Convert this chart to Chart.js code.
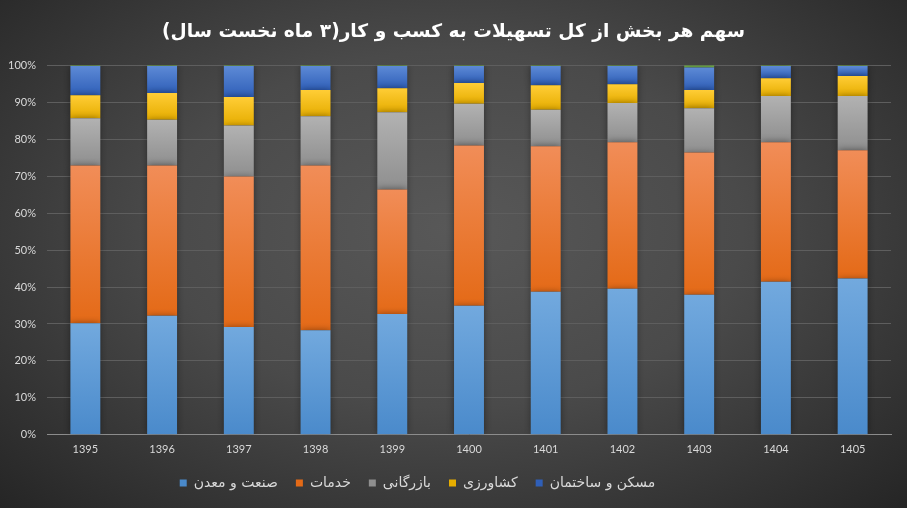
<!DOCTYPE html>
<html>
<head>
<meta charset="utf-8">
<script src="https://cdn.jsdelivr.net/npm/chart.js@4.4.1/dist/chart.umd.min.js"></script>
<style>
  html, body { margin:0; padding:0; }
  body {
    width:907px; height:508px; overflow:hidden;
    background: radial-gradient(ellipse farthest-corner at 50% 45%, #585858 0%, #4a4a4a 45%, #252525 100%);
  }
  #wrap { position:relative; width:907px; height:508px; }
</style>
</head>
<body>
<div id="wrap"><canvas id="c"></canvas></div>
<script>
const years = ['1395','1396','1397','1398','1399','1400','1401','1402','1403','1404','1405'];
const seriesNames = ['صنعت و معدن','خدمات','بازرگانی','کشاورزی','مسکن و ساختمان','سایر'];
const industry     = [30.2, 32.2, 29.2, 28.3, 32.7, 34.9, 38.7, 39.5, 37.9, 41.4, 42.3];
const services     = [42.7, 40.7, 40.7, 44.6, 33.7, 43.4, 39.4, 39.7, 38.5, 37.8, 34.7];
const commerce     = [12.8, 12.4, 13.8, 13.3, 20.9, 11.3,  9.9, 10.6, 12.0, 12.5, 14.7];
const agriculture  = [ 6.2,  7.2,  7.7,  7.1,  6.5,  5.6,  6.6,  5.1,  4.9,  4.8,  5.4];
const housing      = [ 7.9,  7.3,  8.4,  6.5,  6.0,  4.6,  5.2,  4.9,  6.1,  3.3,  2.7];
const other        = [ 0.2,  0.2,  0.2,  0.2,  0.2,  0.2,  0.2,  0.2,  0.6,  0.2,  0.2];
const yTicks = [0,10,20,30,40,50,60,70,80,90,100];

const allSeries = [industry, services, commerce, agriculture, housing, other];
const palette = [
  {flat:'#5b9bd5', top:'#72a9de', bottom:'#4a8acb'},
  {flat:'#ed7d31', top:'#f18d58', bottom:'#e46a17'},
  {flat:'#a5a5a5', top:'#b2b2b2', bottom:'#8f8f8f'},
  {flat:'#ffc000', top:'#ffcd36', bottom:'#e6ad00'},
  {flat:'#4472c4', top:'#5d8ad6', bottom:'#2f5fb8'},
  {flat:'#70ad47', top:'#70ad47', bottom:'#70ad47'}
];

function gradFill(ctx) {
  const p = palette[ctx.datasetIndex];
  if (ctx.type !== 'data') return p.flat;
  const chart = ctx.chart;
  const ys = chart.scales && chart.scales.y;
  if (!ys || !chart.chartArea) return p.flat;
  let start = 0;
  for (let d = 0; d < ctx.datasetIndex; d++) start += allSeries[d][ctx.dataIndex];
  const end = start + allSeries[ctx.datasetIndex][ctx.dataIndex];
  const y1 = ys.getPixelForValue(end), y0 = ys.getPixelForValue(start);
  if (!isFinite(y1) || !isFinite(y0) || y0 === y1) return p.flat;
  const g = chart.ctx.createLinearGradient(0, y1, 0, y0);
  g.addColorStop(0, p.top);
  g.addColorStop(1, p.bottom);
  return g;
}

const datasets = allSeries.map((arr, i) => ({
  label: seriesNames[i],
  data: arr,
  backgroundColor: gradFill,
  borderWidth: 0,
  categoryPercentage: 1,
  barPercentage: 0.39
}));

const shadowPlugin = {
  id: 'barShadow',
  afterLayout(chart) {
    // widen the y label clip region so the right-aligned tick labels are not cut
    if (chart.scales.y) chart.scales.y.left = 0;
    if (chart.legend) { chart.legend.top += 3; chart.legend.bottom += 3; }
  },
  beforeDatasetsDraw(chart) {
    const c = chart.ctx; c.save();
    c.shadowColor = 'rgba(0,0,0,0.45)'; c.shadowBlur = 7;
  },
  afterDatasetsDraw(chart) { chart.ctx.restore(); }
};

Chart.defaults.font.family = "'DejaVu Sans', sans-serif";

new Chart(document.getElementById('c'), {
  type: 'bar',
  data: { labels: years, datasets },
  plugins: [shadowPlugin],
  options: {
    responsive: true,
    maintainAspectRatio: false,
    animation: false,
    layout: { padding: { left: 16, right: 16, top: 6, bottom: 11 } },
    plugins: {
      title: {
        display: true,
        text: 'سهم هر بخش از کل تسهیلات به کسب و کار(۳ ماه نخست سال)',
        color: '#ffffff',
        font: { family: "'DejaVu Sans', sans-serif", size: 18.6, weight: 'bold' },
        padding: { top: 15, bottom: 22 }
      },
      legend: {
        position: 'bottom',
        labels: {
          color: '#d9d9d9',
          font: { family: "'DejaVu Sans', sans-serif", size: 14 },
          boxWidth: 7, boxHeight: 7, padding: 18,
          generateLabels: (chart) => {
            const items = Chart.defaults.plugins.legend.labels.generateLabels(chart)
              .filter(it => it.datasetIndex < 5);
            items.push({ text: '         ', fillStyle: 'rgba(0,0,0,0)', strokeStyle: 'rgba(0,0,0,0)',
                         lineWidth: 0, hidden: false, datasetIndex: 99 });
            return items;
          }
        }
      },
      tooltip: { enabled: false }
    },
    scales: {
      x: {
        stacked: true,
        grid: { display: false },
        border: { display: true, color: '#8c8c8c', width: 1 },
        afterFit: (axis) => { axis.height -= 1; },
        ticks: { color: '#d9d9d9', font: { family: "Lato, 'DejaVu Sans', sans-serif", size: 11 }, padding: 0 }
      },
      y: {
        stacked: true,
        min: 0, max: 100,
        afterBuildTicks: (axis) => { axis.ticks = yTicks.map(v => ({ value: v })); },
        afterFit: (axis) => { axis.width = 31; },
        grid: { color: '#5e5e5e', drawTicks: false, lineWidth: 1 },
        border: { display: false },
        ticks: {
          color: '#d9d9d9',
          font: { family: "Lato, 'DejaVu Sans', sans-serif", size: 11 },
          padding: 11,
          callback: (v) => v + '%'
        }
      }
    }
  }
});
</script>
</body>
</html>
